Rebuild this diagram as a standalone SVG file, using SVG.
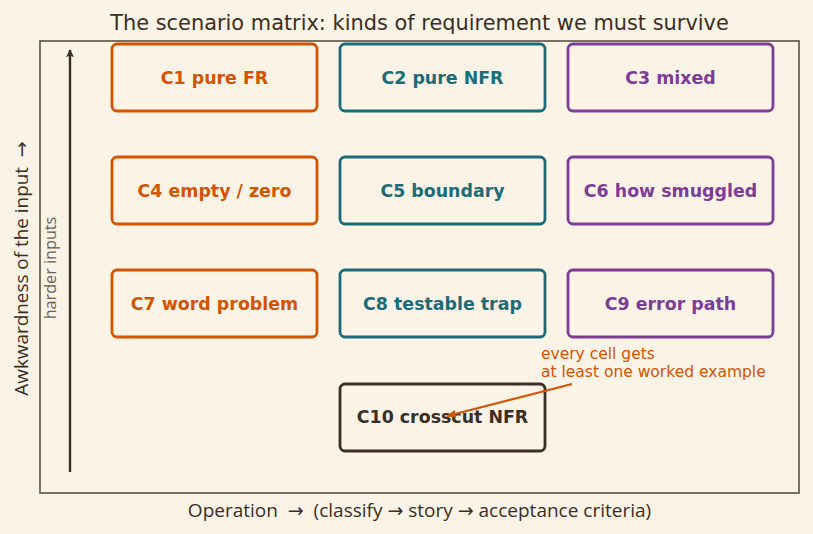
<svg xmlns="http://www.w3.org/2000/svg" width="813" height="534" viewBox="0 0 813 534">
<style>
.box{fill:#faf3e6;stroke-width:2.8}
.lbl{font-family:"DejaVu Sans",sans-serif;font-size:17.4px;font-weight:bold;text-anchor:middle}
.o{stroke:#d35400}.ot{fill:#d35400}
.t{stroke:#1b6b78}.tt{fill:#1b6b78}
.p{stroke:#7d3c98}.pt{fill:#7d3c98}
.d{stroke:#3a2e25}.dt{fill:#3a2e25}
.ax{font-family:"Open Sans","DejaVu Sans",sans-serif;fill:#3a2e25;white-space:pre}
</style>
<defs>
<marker id="ah" viewBox="0 0 10 10" refX="9" refY="5" markerWidth="8" markerHeight="9" orient="auto" markerUnits="userSpaceOnUse"><path d="M0,0 L10,5 L0,10 L2,5 z" fill="#3a2e25"/></marker>
<marker id="ao" viewBox="0 0 10 10" refX="9" refY="5" markerWidth="10" markerHeight="10" orient="auto" markerUnits="userSpaceOnUse"><path d="M0,1 L10,5 L0,9 z" fill="#d35400"/></marker>
</defs>
<rect width="813" height="534" fill="#faf3e6"/>
<text x="419.5" y="30" text-anchor="middle" font-family="DejaVu Sans,sans-serif" font-size="20.9" fill="#3a2e25">The scenario matrix: kinds of requirement we must survive</text>
<rect x="40" y="41" width="759" height="452" fill="none" stroke="#5c5040" stroke-width="1.6"/>
<g id="axes">
<line x1="70" y1="472" x2="70" y2="50" stroke="#3a2e25" stroke-width="2.4" marker-end="url(#ah)"/>
<text class="ax" transform="translate(28,268.5) rotate(-90)" text-anchor="middle" font-size="18.9">Awkwardness of the input  →</text>
<text transform="translate(56,268) rotate(-90)" text-anchor="middle" font-family="Open Sans,DejaVu Sans,sans-serif" font-size="16.2" fill="#6b5e55">harder inputs</text>
<text class="ax" x="419.5" y="517" text-anchor="middle" font-size="19">Operation  →  (classify → story → acceptance criteria)</text>
</g>
<g id="C1"><rect class="box o" x="112" y="44" width="205" height="67" rx="5"/><text class="lbl ot" x="214.5" y="83.5">C1 pure FR</text></g>
<g id="C2"><rect class="box t" x="340" y="44" width="205" height="67" rx="5"/><text class="lbl tt" x="442.5" y="83.5">C2 pure NFR</text></g>
<g id="C3"><rect class="box p" x="568" y="44" width="205" height="67" rx="5"/><text class="lbl pt" x="670.5" y="83.5">C3 mixed</text></g>
<g id="C4"><rect class="box o" x="112" y="157" width="205" height="67" rx="5"/><text class="lbl ot" x="214.5" y="196.5">C4 empty / zero</text></g>
<g id="C5"><rect class="box t" x="340" y="157" width="205" height="67" rx="5"/><text class="lbl tt" x="442.5" y="196.5">C5 boundary</text></g>
<g id="C6"><rect class="box p" x="568" y="157" width="205" height="67" rx="5"/><text class="lbl pt" x="670.5" y="196.5">C6 how smuggled</text></g>
<g id="C7"><rect class="box o" x="112" y="270" width="205" height="67" rx="5"/><text class="lbl ot" x="214.5" y="309.5">C7 word problem</text></g>
<g id="C8"><rect class="box t" x="340" y="270" width="205" height="67" rx="5"/><text class="lbl tt" x="442.5" y="309.5">C8 testable trap</text></g>
<g id="C9"><rect class="box p" x="568" y="270" width="205" height="67" rx="5"/><text class="lbl pt" x="670.5" y="309.5">C9 error path</text></g>
<g id="C10"><rect class="box d" x="340" y="384" width="205" height="67" rx="5"/><text class="lbl dt" x="442.5" y="423">C10 crosscut NFR</text></g>
<g id="connectors">
<line x1="572" y1="384" x2="447" y2="416" stroke="#d35400" stroke-width="2" marker-end="url(#ao)"/>
</g>
<g id="note">
<text x="541" y="359" font-family="DejaVu Sans,sans-serif" font-size="15.5" fill="#d35400">every cell gets</text>
<text x="541" y="377" font-family="DejaVu Sans,sans-serif" font-size="15.5" fill="#d35400">at least one worked example</text>
</g>
</svg>
